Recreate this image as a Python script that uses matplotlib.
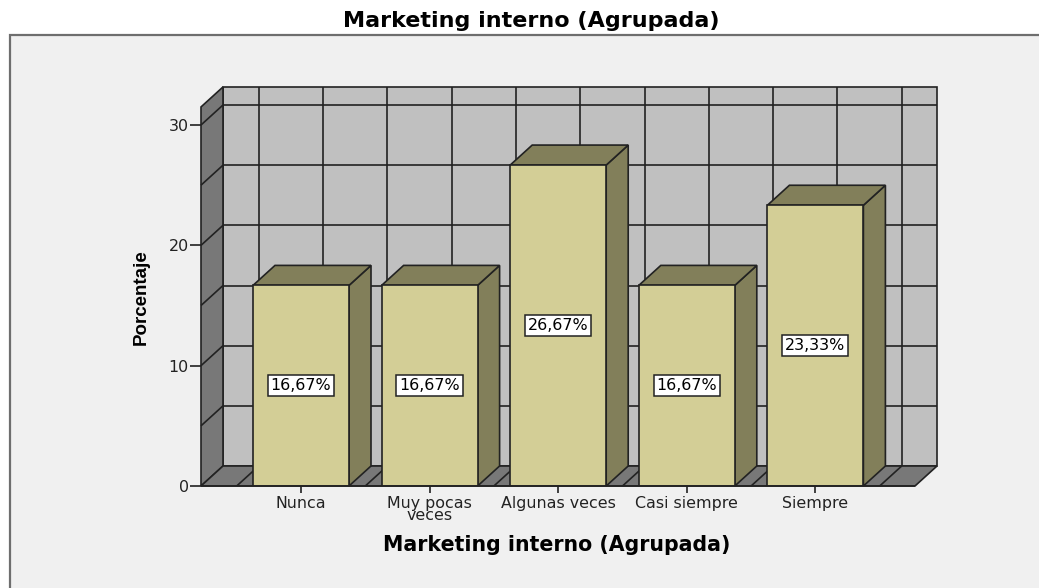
import numpy as np
import matplotlib.pyplot as plt
from matplotlib.patches import Polygon, Rectangle

categorias = ['Nunca', 'Muy pocas\nveces', 'Algunas veces', 'Casi siempre', 'Siempre']
porcentajes = [16.67, 16.67, 26.67, 16.67, 23.33]
etiquetas = ['16,67%', '16,67%', '26,67%', '16,67%', '23,33%']
marcas_y = [0, 10, 20, 30]
rejilla_y = [5, 10, 15, 20, 25, 30]

W, H = 1039, 588
LX0, LX1 = 201, 915      # front plane, pixels
Y0, Y30 = 486, 125
px_x = 128.6             # pixels per category
px_y = (Y0 - Y30) / 30
ymax = 31.5
dx = 22 / px_x           # 3d offset in data units
dy = 20 / px_y
xmin = (LX0 - 301) / px_x
xmax = (LX1 - 301) / px_x
ancho = 96 / px_x

plt.rcParams['font.family'] = ['DejaVu Sans']
negro = '#222222'
lw = 1.2

fig = plt.figure(figsize=(W / 100, H / 100), dpi=100, facecolor='white')
# panel gris de fondo
fig.add_artist(Rectangle((10 / W, -0.1), 1.1, 1.1 - 35 / H, transform=fig.transFigure,
                         facecolor='#F0F0F0', edgecolor='#6E6E6E', lw=1.6, zorder=-5))

y_top_px = Y0 - ymax * px_y
ax = fig.add_axes([LX0 / W, 1 - Y0 / H, (LX1 - LX0) / W, (Y0 - y_top_px) / H])
ax.set_xlim(xmin, xmax)
ax.set_ylim(0, ymax)
ax.patch.set_visible(False)
for s in ax.spines.values():
    s.set_visible(False)


def cara(puntos, color, z):
    ax.add_patch(Polygon(puntos, closed=True, facecolor=color, edgecolor=negro,
                         lw=lw, zorder=z, clip_on=False, joinstyle='miter'))


def linea(xs, ys, z=2):
    ax.plot(xs, ys, color=negro, lw=lw, zorder=z, clip_on=False, solid_capstyle='butt')


# paredes y suelo
cara([(xmin + dx, dy), (xmax + dx, dy), (xmax + dx, ymax + dy), (xmin + dx, ymax + dy)], '#C0C0C0', 1)
cara([(xmin, 0), (xmin + dx, dy), (xmin + dx, ymax + dy), (xmin, ymax)], '#787878', 1)
cara([(xmin, 0), (xmax, 0), (xmax + dx, dy), (xmin + dx, dy)], '#787878', 1)

for v in rejilla_y:
    linea([xmin + dx, xmax + dx], [v + dy, v + dy])
    linea([xmin, xmin + dx], [v, v + dy])
for k in np.arange(-0.5, 5, 0.5):
    linea([k + dx, k + dx], [dy, ymax + dy])
    linea([k, k + dx], [0, dy])

# barras
for i, v in enumerate(porcentajes):
    x0 = i - ancho / 2
    x1 = i + ancho / 2
    z = 3 + i
    cara([(x1, 0), (x1 + dx, dy), (x1 + dx, v + dy), (x1, v)], '#827F5A', z)
    cara([(x0, v), (x1, v), (x1 + dx, v + dy), (x0 + dx, v + dy)], '#827F5A', z)
    ax.bar(i, v, width=ancho, color='#D3CE96', edgecolor=negro, lw=lw, zorder=z + 0.1)
    ax.text(i, v / 2, etiquetas[i], ha='center', va='center', fontsize=11.4, color='black', zorder=20,
            bbox=dict(boxstyle='square,pad=0.18', facecolor='white', edgecolor=negro, lw=1.1))

linea([xmin, xmax], [0, 0], z=15)

ax.set_xticks(range(len(categorias)))
ax.set_xticklabels(categorias, fontsize=11.4, color='#222222', linespacing=0.8)
ax.set_yticks(marcas_y)
ax.set_yticklabels([str(m) for m in marcas_y], fontsize=11.4, color='#222222')
ax.tick_params(axis='x', length=5, width=1.2, color=negro, pad=2)
ax.tick_params(axis='y', length=8, width=1.2, color=negro, pad=1)

fig.text(531 / W, 1 - 21 / H, 'Marketing interno (Agrupada)', ha='center', va='center',
         fontsize=16, fontweight='bold', color='black')
fig.text(557 / W, 1 - 545 / H, 'Marketing interno (Agrupada)', ha='center', va='center',
         fontsize=14.8, fontweight='bold', color='black')
fig.text(141 / W, 1 - 297 / H, 'Porcentaje', ha='center', va='center', rotation=90,
         fontsize=13.5, fontweight='bold', color='black', family=['Liberation Sans'])

fig.savefig('out.png', dpi=100)
